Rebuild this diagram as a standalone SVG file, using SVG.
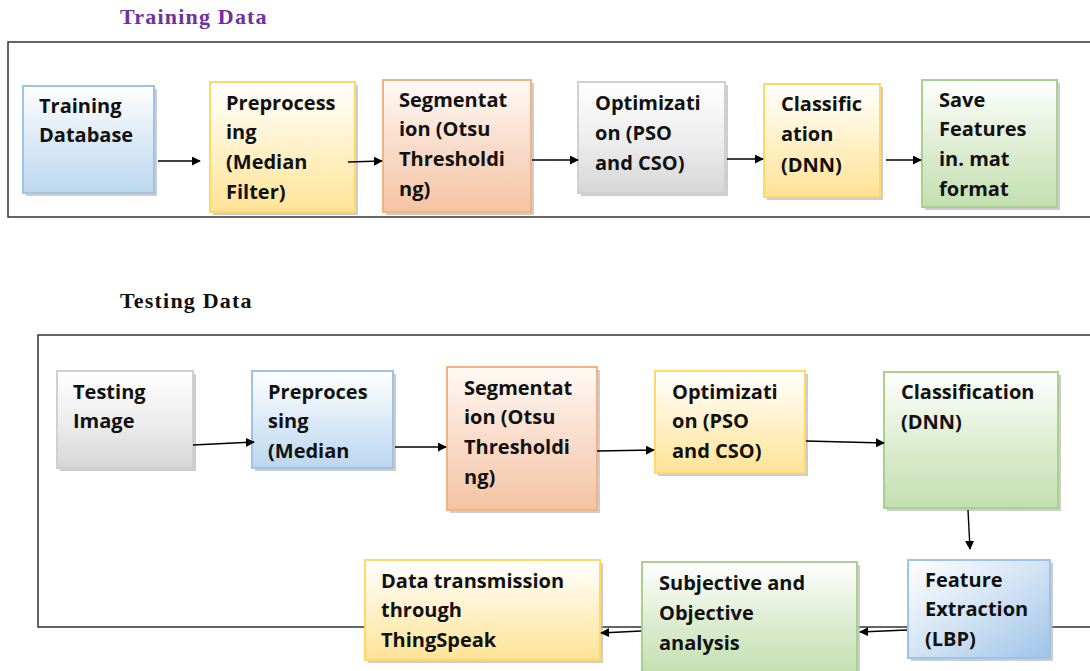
<svg xmlns="http://www.w3.org/2000/svg" width="1090" height="671" viewBox="0 0 1090 671">
<defs>
<linearGradient id="gBlue" x1="0" y1="0" x2="0" y2="1"><stop offset="0" stop-color="#ffffff"/><stop offset="0.6" stop-color="#d6e6f5"/><stop offset="1" stop-color="#bcd6ee"/></linearGradient>
<linearGradient id="gBlueD" x1="0" y1="0" x2="1" y2="1"><stop offset="0" stop-color="#ffffff"/><stop offset="0.5" stop-color="#d2e3f4"/><stop offset="1" stop-color="#9fc3e8"/></linearGradient>
<linearGradient id="gYellow" x1="0" y1="0" x2="0" y2="1"><stop offset="0" stop-color="#ffffff"/><stop offset="0.55" stop-color="#fff0c4"/><stop offset="1" stop-color="#ffe396"/></linearGradient>
<linearGradient id="gOrange" x1="0" y1="0" x2="0" y2="1"><stop offset="0" stop-color="#fffaf6"/><stop offset="0.5" stop-color="#f9dccb"/><stop offset="1" stop-color="#f5c4a3"/></linearGradient>
<linearGradient id="gGray" x1="0" y1="0" x2="0" y2="1"><stop offset="0" stop-color="#ffffff"/><stop offset="0.55" stop-color="#ececec"/><stop offset="1" stop-color="#d6d6d6"/></linearGradient>
<linearGradient id="gGreen" x1="0" y1="0" x2="0" y2="1"><stop offset="0" stop-color="#ffffff"/><stop offset="0.55" stop-color="#dcecd0"/><stop offset="1" stop-color="#c3dfb0"/></linearGradient>
<marker id="ah" viewBox="0 0 10 10" refX="9" refY="5" markerWidth="9" markerHeight="9" markerUnits="userSpaceOnUse" orient="auto"><path d="M0,0 L10,5 L0,10 z" fill="#000"/></marker>
</defs>
<style>
.t{font-family:"Open Sans","Liberation Sans",Arial,sans-serif;font-weight:bold;font-size:20px;fill:#111}
.title{font-family:"Liberation Serif","Times New Roman",serif;font-weight:bold;font-size:22px;letter-spacing:1.2px}
.frame{fill:none;stroke:#333;stroke-width:1.5}
.sh{fill:#b8b8b8;opacity:0.7}
.blue{fill:url(#gBlue);stroke:#9dc3e6;stroke-width:2}
.blueD{fill:url(#gBlueD);stroke:#9dc3e6;stroke-width:2}
.yellow{fill:url(#gYellow);stroke:#ffd966;stroke-width:2}
.orange{fill:url(#gOrange);stroke:#f4b183;stroke-width:2}
.gray{fill:url(#gGray);stroke:#d0d0d0;stroke-width:2}
.green{fill:url(#gGreen);stroke:#a9d18e;stroke-width:2}
.c{stroke:#000;stroke-width:1.4;fill:none;marker-end:url(#ah)}
</style>
<rect width="1090" height="671" fill="#fff"/>

<text class="title" x="120" y="24" fill="#7030a0">Training Data</text>
<path class="frame" d="M1090,42 H8 V217 H1090"/>

<text class="title" x="120" y="308" fill="#111">Testing Data</text>
<path class="frame" d="M1090,335 H38 V627 H1090"/>

<g id="tr-db"><rect class="sh" x="26" y="89" width="131" height="107"/><rect class="blue" x="23" y="86" width="131" height="107"/>
<text class="t" x="39" y="113">Training</text><text class="t" x="39" y="142">Database</text></g>

<g id="tr-pre"><rect class="sh" x="213" y="85" width="145" height="130"/><rect class="yellow" x="210" y="82" width="145" height="130"/>
<text class="t" x="226" y="110">Preprocess</text><text class="t" x="226" y="139">ing</text><text class="t" x="226" y="169">(Median</text><text class="t" x="226" y="199">Filter)</text></g>

<g id="tr-seg"><rect class="sh" x="386" y="83" width="148" height="132"/><rect class="orange" x="383" y="80" width="148" height="132"/>
<text class="t" x="399" y="107">Segmentat</text><text class="t" x="399" y="136">ion (Otsu</text><text class="t" x="399" y="166">Thresholdi</text><text class="t" x="399" y="196">ng)</text></g>

<g id="tr-opt"><rect class="sh" x="581" y="85" width="147" height="111"/><rect class="gray" x="578" y="82" width="147" height="111"/>
<text class="t" x="595" y="110">Optimizati</text><text class="t" x="595" y="140">on (PSO</text><text class="t" x="595" y="170">and CSO)</text></g>

<g id="tr-cls"><rect class="sh" x="767" y="87" width="116" height="113"/><rect class="yellow" x="764" y="84" width="116" height="113"/>
<text class="t" x="781" y="111">Classific</text><text class="t" x="781" y="141">ation</text><text class="t" x="781" y="172">(DNN)</text></g>

<g id="tr-save"><rect class="sh" x="925" y="83" width="135" height="127"/><rect class="green" x="922" y="80" width="135" height="127"/>
<text class="t" x="939" y="107">Save</text><text class="t" x="939" y="136">Features</text><text class="t" x="939" y="166">in. mat</text><text class="t" x="939" y="196">format</text></g>

<g id="te-img"><rect class="sh" x="60" y="374" width="136" height="97"/><rect class="gray" x="57" y="371" width="136" height="97"/>
<text class="t" x="73" y="399">Testing</text><text class="t" x="73" y="428">Image</text></g>

<g id="te-pre"><rect class="sh" x="255" y="374" width="141" height="97"/><rect class="blue" x="252" y="371" width="141" height="97"/>
<text class="t" x="268" y="399">Preproces</text><text class="t" x="268" y="428">sing</text><text class="t" x="268" y="458">(Median</text></g>

<g id="te-seg"><rect class="sh" x="450" y="370" width="150" height="143"/><rect class="orange" x="447" y="367" width="150" height="143"/>
<text class="t" x="464" y="395">Segmentat</text><text class="t" x="464" y="424">ion (Otsu</text><text class="t" x="464" y="454">Thresholdi</text><text class="t" x="464" y="484">ng)</text></g>

<g id="te-opt"><rect class="sh" x="658" y="374" width="150" height="102"/><rect class="yellow" x="655" y="371" width="150" height="102"/>
<text class="t" x="672" y="399">Optimizati</text><text class="t" x="672" y="428">on (PSO</text><text class="t" x="672" y="458">and CSO)</text></g>

<g id="te-cls"><rect class="sh" x="887" y="375" width="174" height="136"/><rect class="green" x="884" y="372" width="174" height="136"/>
<text class="t" x="901" y="399">Classification</text><text class="t" x="901" y="429">(DNN)</text></g>

<g id="te-feat"><rect class="sh" x="911" y="563" width="142" height="98"/><rect class="blueD" x="908" y="560" width="142" height="98"/>
<text class="t" x="925" y="587">Feature</text><text class="t" x="925" y="616">Extraction</text><text class="t" x="925" y="646">(LBP)</text></g>

<g id="te-subj"><rect class="sh" x="645" y="565" width="215" height="110"/><rect class="green" x="642" y="562" width="215" height="112"/>
<text class="t" x="659" y="590">Subjective and</text><text class="t" x="659" y="620">Objective</text><text class="t" x="659" y="650">analysis</text></g>

<g id="te-data"><rect class="sh" x="368" y="563" width="235" height="100"/><rect class="yellow" x="365" y="560" width="235" height="100"/>
<text class="t" x="381" y="588">Data transmission</text><text class="t" x="381" y="617">through</text><text class="t" x="381" y="647">ThingSpeak</text></g>

<g id="connectors">
<line class="c" x1="158" y1="161" x2="200" y2="161"/>
<line class="c" x1="348" y1="162" x2="382" y2="161"/>
<line class="c" x1="532" y1="160" x2="578" y2="160"/>
<line class="c" x1="727" y1="159" x2="763" y2="159"/>
<line class="c" x1="886" y1="160" x2="921" y2="160"/>
<line class="c" x1="193" y1="445" x2="254" y2="442"/>
<line class="c" x1="395" y1="447" x2="446" y2="447"/>
<line class="c" x1="597" y1="451" x2="654" y2="450"/>
<line class="c" x1="806" y1="441" x2="884" y2="443"/>
<line class="c" x1="968" y1="510" x2="970" y2="549"/>
<line class="c" x1="907" y1="630" x2="860" y2="632"/>
<line class="c" x1="641" y1="631" x2="601" y2="633"/>
</g>
</svg>
